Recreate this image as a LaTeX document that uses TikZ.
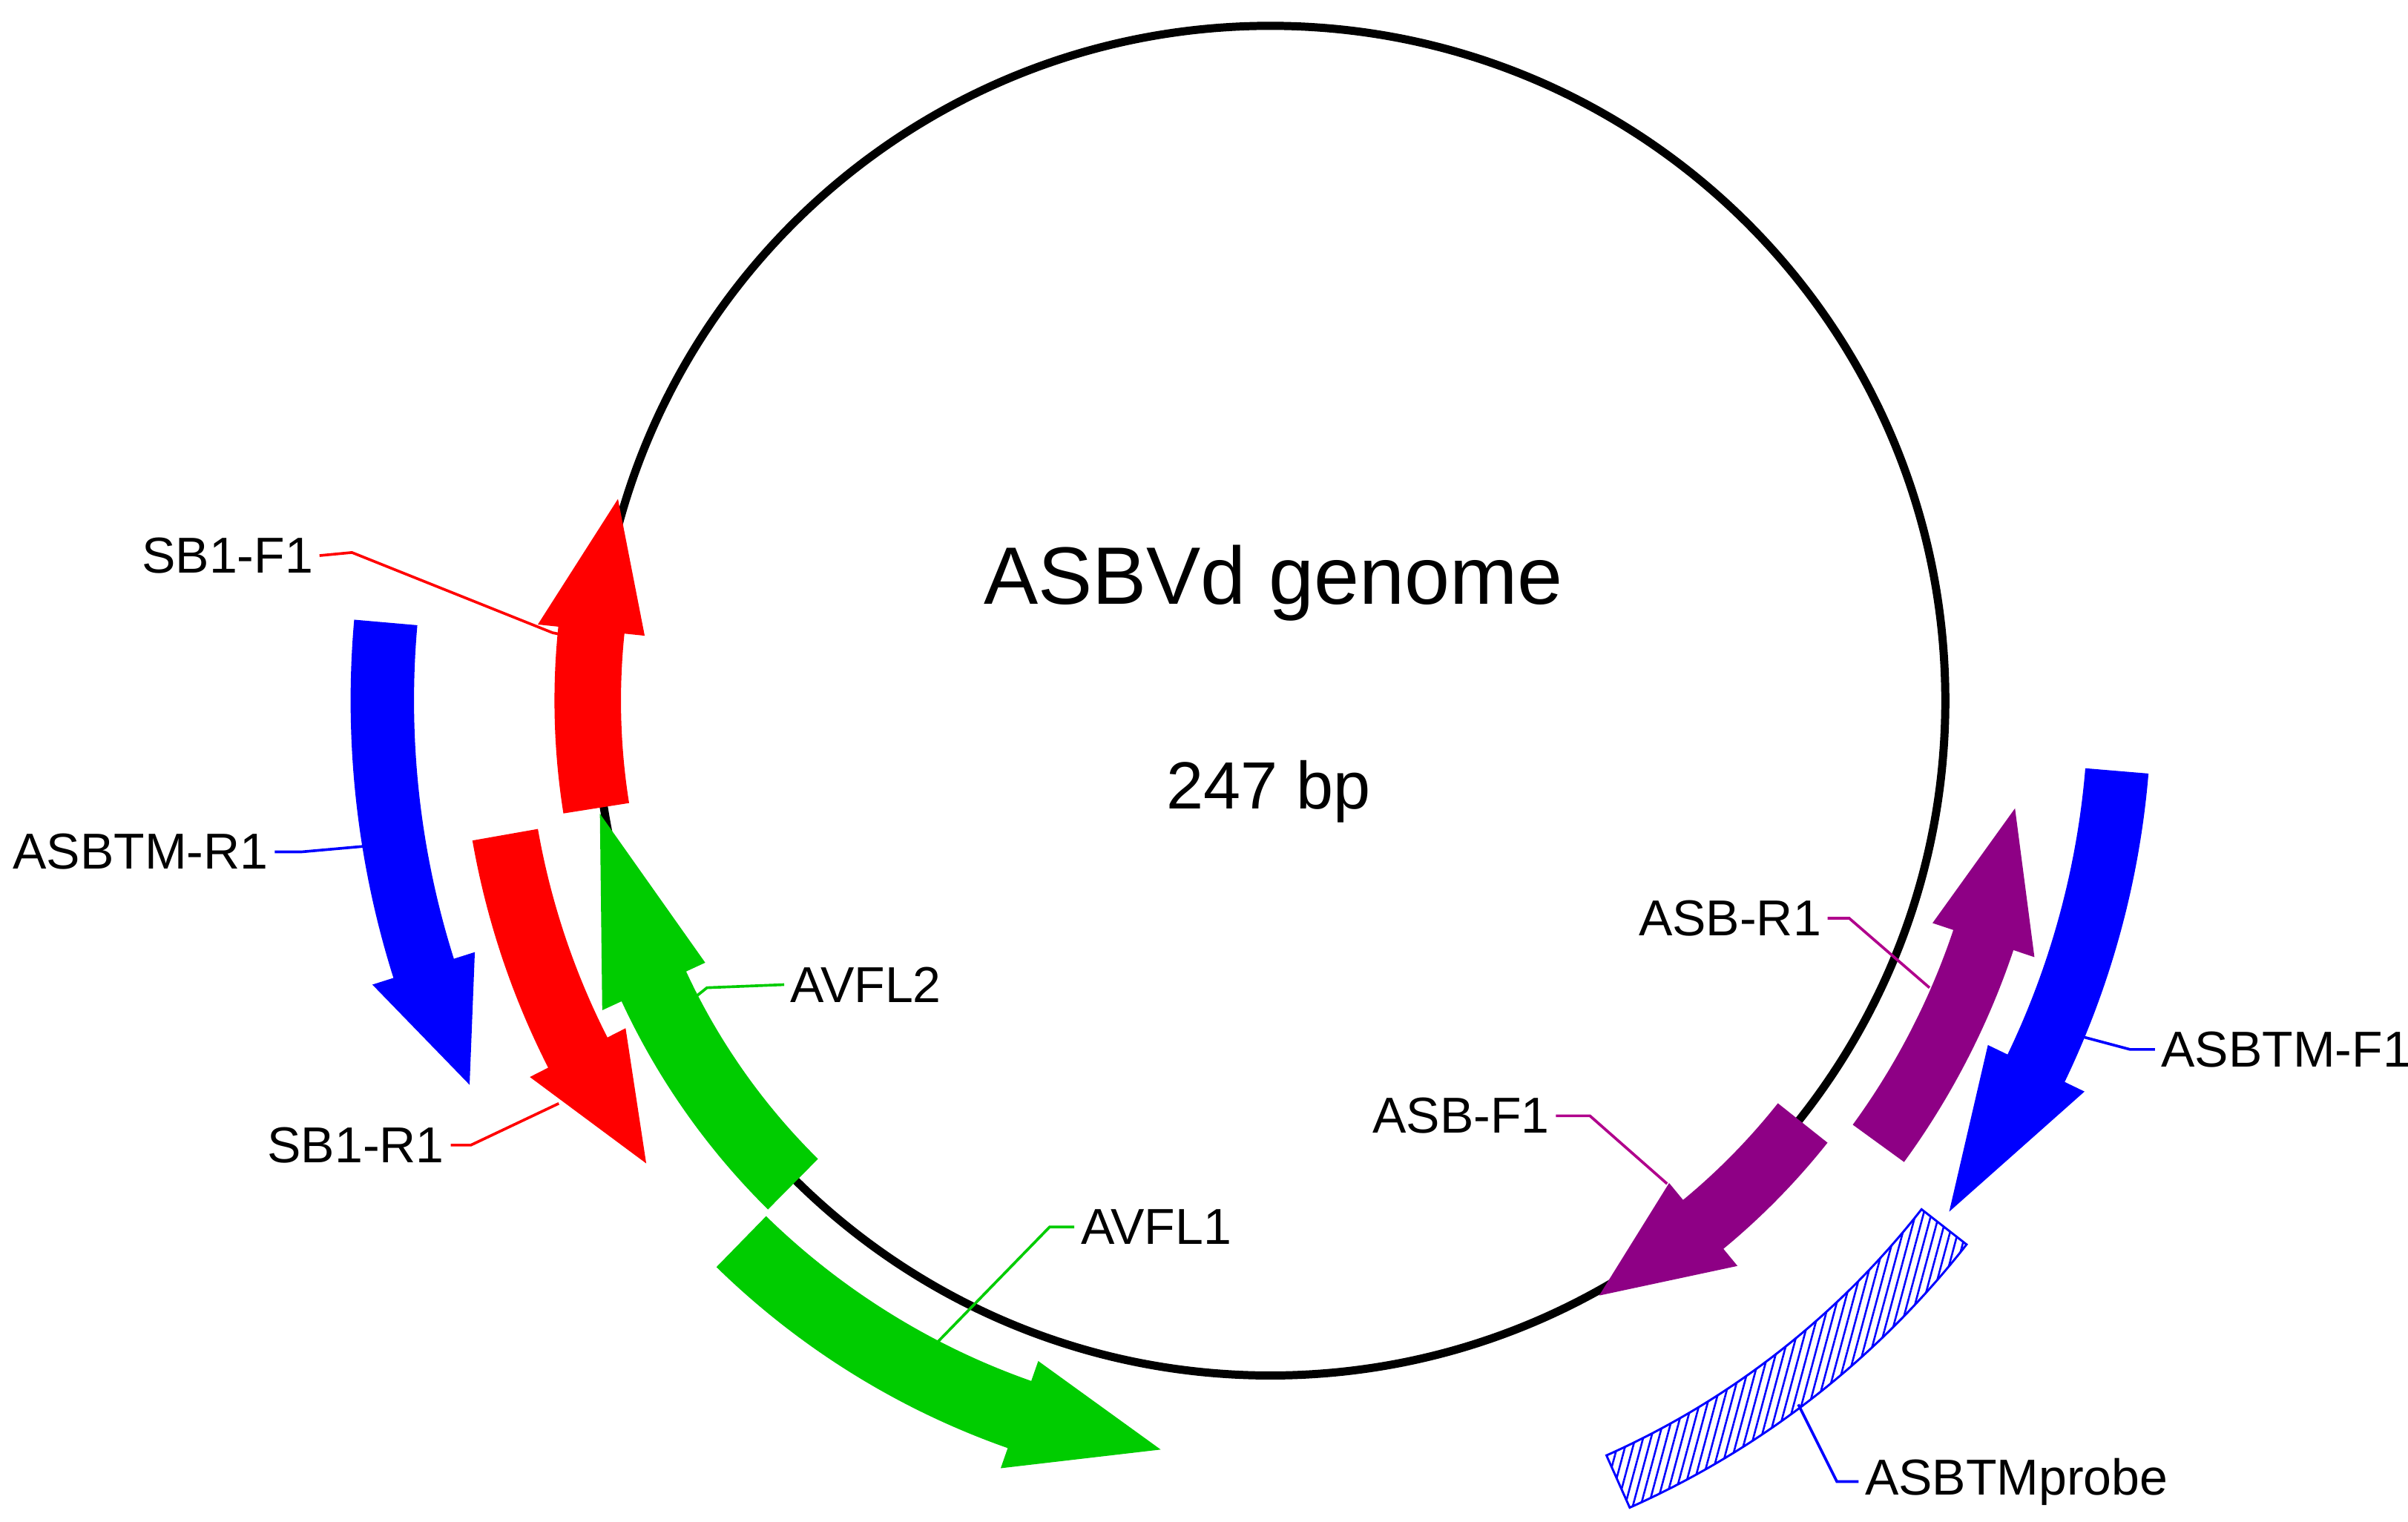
\documentclass[tikz,border=0pt]{standalone}
\usepackage{fontspec}
\setmainfont{Liberation Sans}
\usetikzlibrary{patterns.meta}
\definecolor{myred}{HTML}{FF0000}
\definecolor{myblue}{HTML}{0000FF}
\definecolor{mygreen}{HTML}{00CC00}
\definecolor{mypurple}{HTML}{8E0085}
\definecolor{mypink}{HTML}{B0008C}
\newcommand\carrow[7]{% color, r, w, tail angle, head base angle, tip angle, head width
  \fill[#1,draw=#1,line width=0.3pt] ({#4}:{#2+#3/2}) arc[start angle={#4}, end angle={#5}, radius={#2+#3/2}]
    -- ({#5}:{#2+#7/2}) -- ({#6}:{#2}) -- ({#5}:{#2-#7/2}) -- ({#5}:{#2-#3/2})
    arc[start angle={#5}, end angle={#4}, radius={#2-#3/2}] -- cycle;}
\begin{document}
\begin{tikzpicture}[x=0.01cm,y=-0.01cm,
  lab/.style={font=\fontsize{9.3}{11}\selectfont, inner sep=1pt},
  lead/.style={line width=0.5pt}]
\useasboundingbox (0,0) rectangle (1560,986);
\fill[white] (0,0) rectangle (1560,986);
\draw[line width=1.5pt] (823,454) circle[radius=4.37cm];
\begin{scope}[shift={(823,454)},x=1cm,y=1cm]
  \carrow{myred}{4.42}{0.42}{189}{174}{163}{0.68}
  \carrow{myblue}{5.75}{0.40}{175}{197.6}{205.5}{0.68}
  \carrow{myred}{5.03}{0.42}{190}{207}{216.4}{0.68}
  \carrow{mygreen}{4.40}{0.45}{225.3}{204.8}{189.8}{0.72}
  \carrow{mygreen}{4.90}{0.45}{225.7}{250.7}{261.5}{0.72}
  \carrow{mypurple}{4.40}{0.40}{-38.5}{-50.5}{-60.9}{0.68}
  \carrow{mypurple}{4.87}{0.40}{-36}{-18.5}{-8.4}{0.68}
  \carrow{myblue}{5.50}{0.40}{-4.8}{-25.7}{-36.8}{0.68}
  \draw[myblue,line width=0.4pt,pattern={Lines[angle=75,distance=1.4pt,line width=0.35pt]},pattern color=myblue]
    (-38:5.72) arc[start angle=-38,end angle=-66,radius=5.72] -- (-66:5.35)
    arc[start angle=-66,end angle=-38,radius=5.35] -- cycle;
\end{scope}
\node[font=\fontsize{15}{18}\selectfont] (title) at (825,378) {ASBVd genome};
\node[font=\fontsize{12.3}{15}\selectfont] (size) at (822,513) {247 bp};
\node[lab,anchor=east] (sbf) at (207,360) {SB1-F1};
\draw[lead,myred] (sbf.east) -- (228,358) -- (358,410) -- (368,412);
\node[lab,anchor=east] (tmr) at (178,552) {ASBTM-R1};
\draw[lead,myblue] (tmr.east) -- (195,552) -- (240,548);
\node[lab,anchor=east] (sbr) at (292,742) {SB1-R1};
\draw[lead,myred] (sbr.east) -- (305,742) -- (362,715);
\node[lab,anchor=west] (av2) at (508,638) {AVFL2};
\draw[lead,mygreen] (av2.west) -- (458,640) -- (443,652);
\node[lab,anchor=west] (av1) at (696,795) {AVFL1};
\draw[lead,mygreen] (av1.west) -- (680,795) -- (607,870);
\node[lab,anchor=east] (asf) at (1008,723) {ASB-F1};
\draw[lead,mypink] (asf.east) -- (1030,723) -- (1080,767);
\node[lab,anchor=east] (asr) at (1184,595) {ASB-R1};
\draw[lead,mypink] (asr.east) -- (1198,595) -- (1250,640);
\node[lab,anchor=west] (tmf) at (1396,680) {ASBTM-F1};
\draw[lead,myblue] (tmf.west) -- (1380,680) -- (1350,672);
\node[lab,anchor=west] (prb) at (1204,960) {ASBTMprobe};
\draw[lead,myblue] (prb.west) -- (1190,960) -- (1165,910);
\end{tikzpicture}
\end{document}
